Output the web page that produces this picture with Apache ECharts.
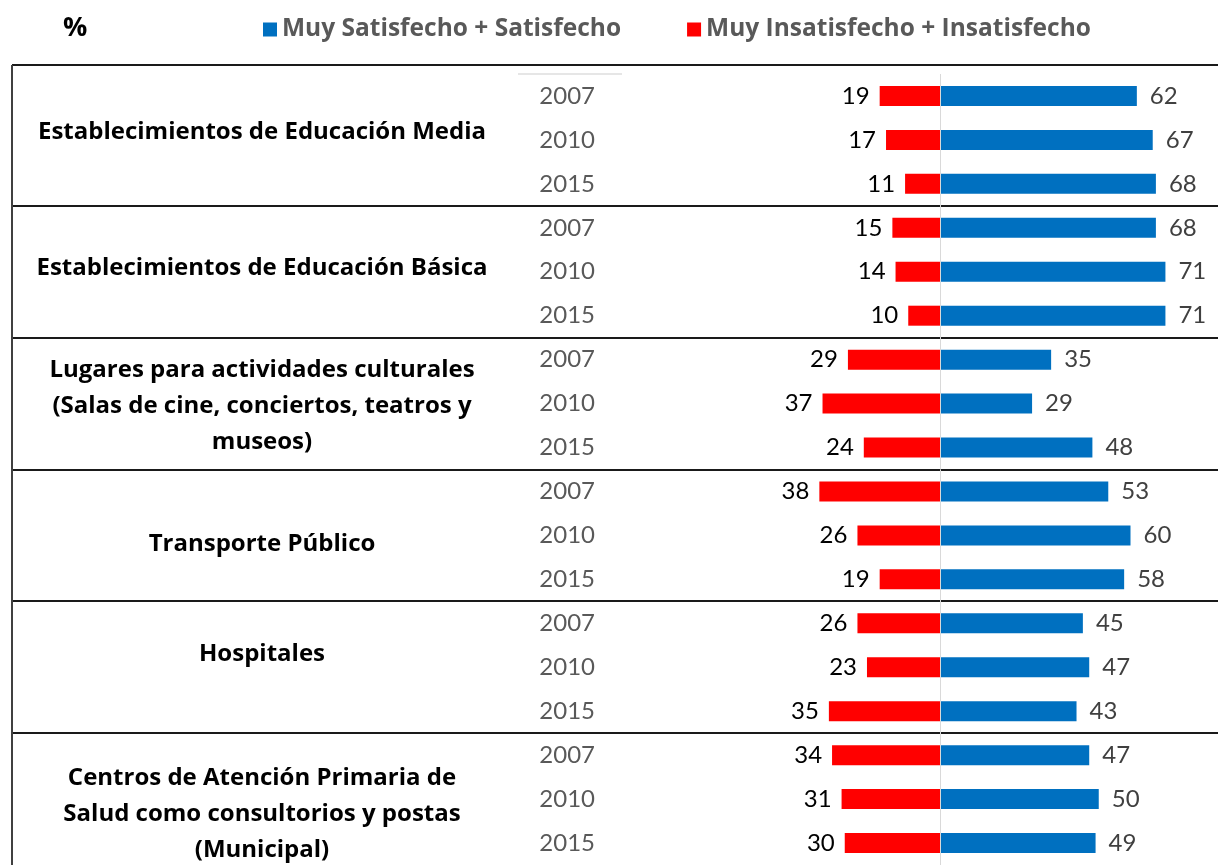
<!DOCTYPE html>
<html>
<head>
<meta charset="utf-8">
<script src="https://cdn.jsdelivr.net/npm/echarts@6/dist/echarts.min.js"></script>
<style>
html, body { margin: 0; padding: 0; background: #fff; }
#chart { width: 1218px; height: 865px; }
</style>
</head>
<body>
<div id="chart"></div>
<script>
var groups = [
    'Establecimientos de Educación Media',
    'Establecimientos de Educación Básica',
    'Lugares para actividades culturales\n(Salas de cine, conciertos, teatros y\nmuseos)',
    'Transporte Público',
    'Hospitales',
    'Centros de Atención Primaria de\nSalud como consultorios y postas\n(Municipal)'
];
var groupShift = [-8, -4, 3, 9, -13, 15]; // label nudges vs. band centre
var years = ['2007', '2010', '2015'];
var satisfied = [62, 67, 68, 68, 71, 71, 35, 29, 48, 53, 60, 58, 45, 47, 43, 47, 50, 49];
var unsatisfied = [19, 17, 11, 15, 14, 10, 29, 37, 24, 38, 26, 19, 26, 23, 35, 34, 31, 30];

var numFont = 'Lato, "Open Sans", sans-serif';
var textFont = '"Open Sans", Lato, sans-serif';
var rowLabels = [];
for (var g = 0; g < groups.length; g++) {
    for (var y = 0; y < years.length; y++) {
        rowLabels.push(years[y]);
    }
}

var chart = echarts.init(document.getElementById('chart'));
var option = {
    animation: false,
    title: {
        text: '%',
        left: 58,
        top: 10,
        textStyle: { fontSize: 27, fontWeight: 'bold', color: '#000', fontFamily: textFont }
    },
    legend: {
        left: 258,
        top: 12,
        icon: 'rect',
        itemWidth: 14,
        itemHeight: 14,
        itemGap: 66,
        textStyle: { fontSize: 24.5, fontWeight: 'bold', color: '#595959', fontFamily: textFont },
        data: ['Muy Satisfecho + Satisfecho', 'Muy Insatisfecho + Insatisfecho']
    },
    grid: { left: 686, right: 24, top: 74, bottom: 0, outerBoundsMode: 'none', containLabel: false },
    xAxis: { type: 'value', min: -80, max: 80, show: false },
    yAxis: {
        type: 'category',
        inverse: true,
        data: rowLabels,
        axisLine: { show: false },
        axisTick: { show: false },
        axisLabel: { margin: 91, fontSize: 24, color: '#595959', fontFamily: numFont }
    },
    series: [{
        name: 'Muy Satisfecho + Satisfecho',
        type: 'bar',
        data: satisfied,
        barWidth: 20,
        barGap: '-100%',
        itemStyle: { color: '#0070c0' },
        label: { show: true, position: 'right', distance: 13, fontSize: 24, color: '#404040', fontFamily: numFont },
        markLine: {
            silent: true,
            symbol: 'none',
            label: { show: false },
            lineStyle: { color: '#d9d9d9', width: 1, type: 'solid' },
            data: [{ xAxis: 0 }]
        }
    }, {
        name: 'Muy Insatisfecho + Insatisfecho',
        type: 'bar',
        data: unsatisfied.map(function(v) { return -v; }),
        barWidth: 20,
        barGap: '-100%',
        itemStyle: { color: '#ff0000' },
        label: {
            show: true,
            position: 'left',
            distance: 10,
            fontSize: 24,
            color: '#000',
            fontFamily: numFont,
            formatter: function(p) { return Math.abs(p.value); }
        }
    }]
};
chart.setOption(option);

// table rules and group names, placed from the category axis
var rowY = function(i) { return chart.convertToPixel({ yAxisIndex: 0 }, i); };
var half = (rowY(1) - rowY(0)) / 2;
var elements = [];
var rule = { stroke: '#1a1a1a', lineWidth: 2 };
var topY = rowY(0) - half - 9;
elements.push({ type: 'line', shape: { x1: 12, y1: topY, x2: 1218, y2: topY }, style: rule });
for (var k = 3; k < rowLabels.length; k += 3) {
    var sy = Math.round((rowY(k - 1) + rowY(k)) / 2);
    elements.push({ type: 'line', shape: { x1: 12, y1: sy, x2: 1218, y2: sy }, style: rule });
}
elements.push({ type: 'line', shape: { x1: 12, y1: topY, x2: 12, y2: 865 }, style: { stroke: '#404040', lineWidth: 2 } });
elements.push({ type: 'line', shape: { x1: 518, y1: rowY(0) - half, x2: 622, y2: rowY(0) - half }, style: { stroke: '#e6e6e6', lineWidth: 2 } });
for (var i = 0; i < groups.length; i++) {
    elements.push({
        type: 'text',
        x: 262,
        y: rowY(i * 3 + 1) + groupShift[i],
        style: {
            text: groups[i],
            align: 'center',
            verticalAlign: 'middle',
            fontSize: 24,
            lineHeight: 36,
            fontWeight: 'bold',
            fontFamily: textFont,
            fill: '#000'
        }
    });
}
chart.setOption({ graphic: elements });
</script>
</body>
</html>
